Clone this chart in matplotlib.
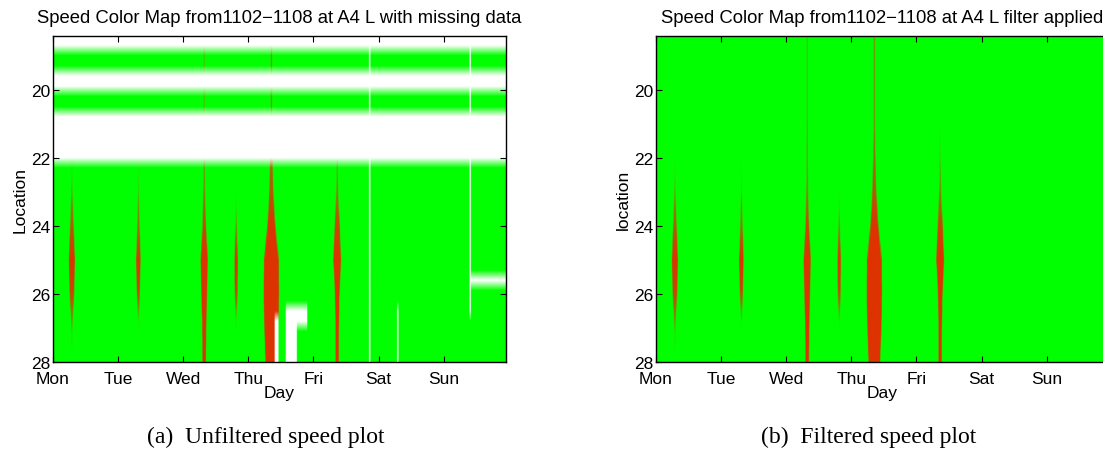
import numpy as np
import matplotlib
matplotlib.use('Agg')
import matplotlib.pyplot as plt
from matplotlib.colors import LinearSegmentedColormap

plt.rcParams['font.family'] = ['Liberation Sans', 'DejaVu Sans']

# ---------------- data ----------------
day_labels = ['Mon', 'Tue', 'Wed', 'Thu', 'Fri', 'Sat', 'Sun']
loc_ticks = [20, 22, 24, 26, 28]
locations = np.round(np.arange(18.4, 28.01, 0.3), 2)      # detector rows
times = np.arange(0, 6.96, 5 / 1440)                        # 5-min samples (days)

# congestion streaks: center (day), half width (hours) and depth (0 free flow .. 1 jam)
streak_locs = [18.4, 21.0, 22.0, 23.0, 24.0, 25.0, 26.0, 27.0, 28.0]
streak_centers = [0.29, 1.31, 2.32, 2.81, 3.35, 4.36]
streak_halfwidth_h = [
    [0, 0, 0, 0.2, 0.6, 1.1, 0.8, 0.1, 0],
    [0, 0, 0, 0.1, 0.4, 0.8, 0.5, 0, 0],
    [0.15, 0.15, 0.2, 0.3, 0.6, 1.3, 1.0, 0.7, 0.6],
    [0, 0, 0, 0, 0.2, 0.6, 0.5, 0, 0],
    [0.2, 0.2, 0.4, 0.7, 1.4, 2.7, 2.8, 2.6, 2.1],
    [0, 0, 0.1, 0.3, 0.9, 1.4, 0.8, 0.6, 0.6],
]
streak_depth = [
    [0, 0, 0, 0.5, 0.8, 1, 0.9, 0.5, 0],
    [0, 0, 0, 0.4, 0.7, 1, 0.9, 0, 0],
    [0.5, 0.5, 0.5, 0.6, 0.9, 1, 1, 1, 1],
    [0, 0, 0, 0, 0.6, 1, 0.9, 0, 0],
    [0.6, 0.6, 0.7, 0.8, 1, 1, 1, 1, 1],
    [0, 0, 0.4, 0.6, 0.9, 1, 1, 1, 1],
]

# missing data (unfiltered panel)
missing_rows_left = [18.4, 18.7, 19.6, 19.9, 20.8, 21.1, 21.4, 21.7, 22.0]
missing_blocks_left = [  # (day start, day end, location start, location end)
    (3.40, 3.46, 26.6, 28.0),
    (3.57, 3.74, 26.5, 28.0),
    (3.74, 3.90, 26.5, 26.9),
    (4.85, 4.87, 18.4, 28.0),
    (5.28, 5.30, 26.5, 28.0),
    (6.39, 6.41, 18.4, 26.7),
    (6.40, 6.96, 25.5, 25.7),
]

titles = ['Speed Color Map from1102\u22121108 at A4 L with missing data',
          'Speed Color Map from1102\u22121108 at A4 L filter applied']
ylabels = ['Location', 'location']
captions = ['(a)  Unfiltered speed plot', '(b)  Filtered speed plot']


def build(missing_rows, missing_blocks):
    V = np.ones((len(locations), len(times)))
    for c, hw, dp in zip(streak_centers, streak_halfwidth_h, streak_depth):
        hw_r = np.interp(locations, streak_locs, hw) / 24.0
        dp_r = np.interp(locations, streak_locs, dp)
        for i in range(len(locations)):
            if hw_r[i] > 0:
                sel = np.abs(times - c) <= hw_r[i]
                V[i, sel] = np.minimum(V[i, sel], 1 - dp_r[i])
    for r in missing_rows:
        V[np.isclose(locations, r), :] = 2
    for t0, t1, l0, l1 in missing_blocks:
        rs = (locations >= l0 - 1e-6) & (locations <= l1 + 1e-6)
        cs = (times >= t0) & (times <= t1)
        V[np.ix_(rs, cs)] = 2
    return V


cmap = LinearSegmentedColormap.from_list(
    'spd', [(0.0, '#dd3300'), (0.5, '#00ff00'), (1.0, '#ffffff')])

W, H = 1103, 452
fig = plt.figure(figsize=(W / 100, H / 100), dpi=100)
ax_left_px = [52.7, 655.7]
ax_w, ax_top, ax_bot = 453.0, 37.3, 362.7

panels = [build(missing_rows_left, missing_blocks_left), build([], [])]
dt, dl = times[1] - times[0], 0.3
extent = [times[0] - dt / 2, times[-1] + dt / 2,
          locations[-1] + dl / 2, locations[0] - dl / 2]

for k, V in enumerate(panels):
    ax = fig.add_axes([ax_left_px[k] / W, 1 - ax_bot / H, ax_w / W, (ax_bot - ax_top) / H])
    ax.imshow(V, cmap=cmap, vmin=0, vmax=2, aspect='auto', extent=extent,
              interpolation='bilinear', interpolation_stage='rgba', origin='upper')
    ax.set_xlim(0, 6.95)
    ax.set_ylim(28, 18.43)
    ax.set_xticks(range(7))
    ax.set_xticklabels(day_labels)
    ax.set_yticks(loc_ticks)
    ax.tick_params(direction='in', top=True, right=True, length=4, width=0.8,
                   labelsize=12.5, colors='black')
    ax.tick_params(axis='x', pad=7)
    ax.tick_params(axis='y', pad=2)
    for s in ax.spines.values():
        s.set_linewidth(1.0)
    ax.set_title(titles[k], fontsize=13.3, pad=10.5)
    ax.set_xlabel('Day', fontsize=12.5, labelpad=-1)
    ax.set_ylabel(ylabels[k], fontsize=12.5, labelpad=2)

fig.text(266 / W, 1 - 437 / H, captions[0], ha='center', va='center',
         family=['Liberation Serif', 'DejaVu Serif'], fontsize=17)
fig.text(869 / W, 1 - 437 / H, captions[1], ha='center', va='center',
         family=['Liberation Serif', 'DejaVu Serif'], fontsize=17)

fig.savefig('out.png', dpi=100)
